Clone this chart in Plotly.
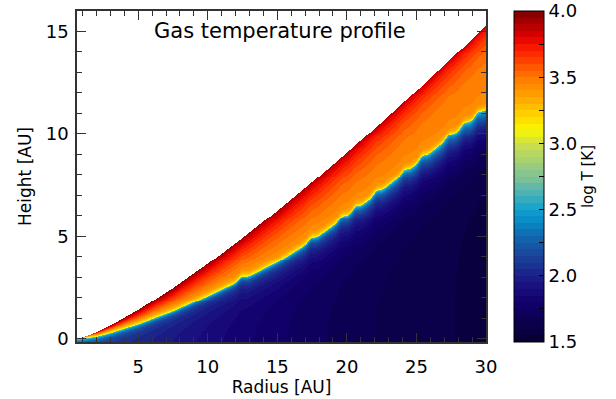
import numpy as np
import plotly.graph_objects as go

# ---------------- data ----------------
radius_nodes = [0.6, 2, 3, 5, 7.5, 10, 12.5, 15, 17.5, 20, 22.5, 25, 27.5, 30]
surface_height = [0.0, 0.34, 0.67, 1.42, 2.50, 3.68, 4.94, 6.27, 7.66, 9.10, 10.59, 12.12, 13.69, 15.3]
transition_height = [0.0, 0.12, 0.30, 0.72, 1.35, 2.10, 2.90, 3.75, 4.80, 6.00, 7.25, 8.55, 9.90, 11.2]
bump_radius = [12.4, 17.4, 19.6, 20.6, 22.1, 24.1, 25.4, 27.3, 28.4, 29.4]

midplane_radius = [0.6, 3, 5, 8, 12, 17, 22, 30]
midplane_logT = [2.10, 2.05, 2.00, 1.92, 1.82, 1.72, 1.65, 1.58]
edge_radius = [0.6, 5, 10, 20, 30]
below_edge_logT = [2.25, 2.22, 2.20, 2.35, 2.50]
below_scale = [0.3, 0.4, 0.6, 0.9, 1.1]

hot_frac = [0.0, 0.1, 0.3, 0.5, 0.7, 0.85, 0.95, 1.0]
hot_logT_inner = [3.30, 3.40, 3.50, 3.62, 3.75, 3.85, 3.93, 3.98]
hot_logT_outer = [3.40, 3.44, 3.46, 3.48, 3.55, 3.65, 3.75, 3.83]

cbar_values = [1.5, 1.6, 1.7, 1.8, 1.9, 2.0, 2.1, 2.2, 2.3, 2.4, 2.5, 2.6, 2.7,
               2.8, 2.9, 3.0, 3.1, 3.2, 3.3, 3.4, 3.5, 3.6, 3.7, 3.8, 3.9, 4.0]
cbar_colors = ["#080030", "#0a0045", "#0d0058", "#12006c", "#180c7c", "#1a2088",
               "#1a3894", "#1850a0", "#1068b0", "#0888c4", "#10a0d0", "#40b0b8",
               "#70bca0", "#90c888", "#b0d468", "#d0e048", "#f8f800", "#ffd800",
               "#ffb400", "#ff9400", "#ff7800", "#ff4c00", "#ff2000", "#e00000",
               "#b00000", "#780000"]
cbar_ticks = [1.5, 1.75, 2.0, 2.25, 2.5, 2.75, 3.0, 3.25, 3.5, 3.75, 4.0]
cbar_ticktext = ["1.5", "", "2.0", "", "2.5", "", "3.0", "", "3.5", "", "4.0"]
x_ticks = [5, 10, 15, 20, 25, 30]
y_ticks = [0, 5, 10, 15]

# ---------------- build field ----------------
x = np.linspace(0.6, 30, 410)
y = np.linspace(-0.15, 16, 340)
R, Z = np.meshgrid(x, y)

ztop = np.interp(R, radius_nodes, surface_height)
ztr = np.interp(R, radius_nodes, transition_height)
for rb in bump_radius:
    ztr = ztr + 0.15 * np.exp(-((R - rb) / 0.3) ** 2)
thick = np.maximum(ztop - ztr, 1e-6)
s = np.clip((Z - ztr) / thick, 0, 1)
w = np.clip((R - 5) / 25, 0, 1)
hot = (1 - w) * np.interp(s, hot_frac, hot_logT_inner) + w * np.interp(s, hot_frac, hot_logT_outer)
h = np.maximum(Z - ztr, 0)
hot = hot - (hot - 3.05) * np.exp(-h / 0.12)

d = np.maximum(ztr - Z, 0)
tm = np.interp(R, midplane_radius, midplane_logT)
te = np.interp(R, edge_radius, below_edge_logT)
L = np.interp(R, edge_radius, below_scale)
cold = tm + (te - tm) * np.exp(-d / L) + (2.7 - te) * np.exp(-d / 0.12)

field = np.where(Z >= ztr, hot, cold)
field[Z > ztop] = np.nan


# stepped colour scale
def hex2rgb(hx):
    hx = hx.lstrip("#")
    return np.array([int(hx[i:i + 2], 16) for i in (0, 2, 4)], float)


rgb = np.array([hex2rgb(c) for c in cbar_colors])
nb = 50
cs = []
for i in range(nb):
    v = 1.5 + 2.5 * (i + 0.5) / nb
    col = [np.interp(v, cbar_values, rgb[:, k]) for k in range(3)]
    c = "rgb(%d,%d,%d)" % tuple(int(round(q)) for q in col)
    cs.append([i / nb, c])
    cs.append([(i + 1) / nb, c])

FONT = "DejaVu Sans"
fig = go.Figure()
fig.add_trace(go.Heatmap(
    x=x, y=y, z=field, zmin=1.5, zmax=4.0, colorscale=cs, zsmooth=False,
    hoverinfo="skip",
    colorbar=dict(
        x=1.068, xanchor="left", xpad=0, y=0.5, yanchor="middle", ypad=0,
        len=1, lenmode="fraction", thickness=30, thicknessmode="pixels",
        outlinewidth=1, outlinecolor="black",
        tickvals=cbar_ticks, ticktext=cbar_ticktext, ticks="inside",
        ticklen=5, tickcolor="black", tickwidth=1,
        tickfont=dict(family=FONT, size=18, color="black"),
        title=dict(text="log T [K]", side="right", font=dict(family=FONT, size=15, color="black")),
    ),
))

# mirrored colorbar ticks (left side)
cb_x0 = 1.068
shapes = []
for v in cbar_ticks[1:-1]:
    yy = (v - 1.5) / 2.5
    shapes.append(dict(type="line", xref="paper", yref="paper", x0=cb_x0, x1=cb_x0 + 5 / 409,
                       y0=yy, y1=yy, line=dict(color="black", width=1)))

axis_common = dict(
    showgrid=False, zeroline=False, showline=True, linecolor="#333", linewidth=1.5,
    mirror="ticks", ticks="inside", ticklen=9, tickwidth=1.2, tickcolor="#333",
    tickfont=dict(family=FONT, size=18, color="black"),
    minor=dict(ticks="inside", ticklen=5, tickwidth=1.2, tickcolor="#333", dtick=1, tick0=0),
)
fig.update_layout(
    width=616, height=399,
    margin=dict(l=77, r=130, t=9, b=57),
    paper_bgcolor="white", plot_bgcolor="white",
    xaxis=dict(range=[0.6, 30], tickvals=x_ticks, ticklabelstandoff=8,
               title=dict(text="Radius [AU]", font=dict(family=FONT, size=17, color="black"), standoff=0),
               **axis_common),
    yaxis=dict(range=[-0.15, 16], tickvals=y_ticks, ticklabelstandoff=3,
               title=dict(text="Height [AU]", font=dict(family=FONT, size=17, color="black"), standoff=10),
               **axis_common),
    shapes=shapes,
    annotations=[dict(text="Gas temperature profile", x=0.4963, y=0.940, xref="paper", yref="paper",
                      xanchor="center", yanchor="middle", showarrow=False,
                      font=dict(family=FONT, size=21, color="black"))],
)
fig.write_html("out.html")
